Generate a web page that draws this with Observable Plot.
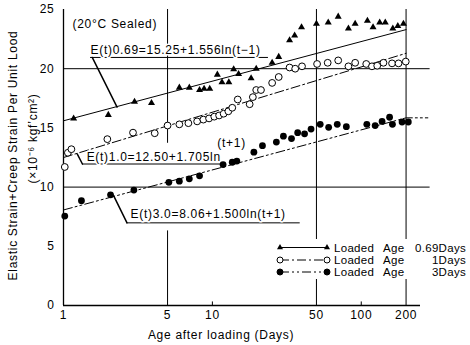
<!DOCTYPE html>
<html><head><meta charset="utf-8">
<script src="https://cdn.jsdelivr.net/npm/d3@7"></script>
<script src="https://cdn.jsdelivr.net/npm/@observablehq/plot@0.6"></script>
<style>
body{margin:0;background:#fff}
#wrap{position:relative;width:470px;height:345px;overflow:hidden}
#legend{position:absolute;left:0;top:0;pointer-events:none}
</style>
</head><body><div id="wrap"></div>
<script>
// ---- data ----
const triAge = [1.17, 2.0, 3.0, 3.9, 6.0, 7.0, 8.2, 8.8, 9.6, 10.8, 11.6, 12.9, 13.9, 15.0, 18.2, 19.7, 25.2, 27.9, 33, 35.7, 39.7, 50, 60, 70, 82, 91, 110, 120, 133, 145, 163, 176, 192];
const triVal = [15.8, 16.1, 17.2, 17.1, 18.4, 18.4, 18.2, 18.3, 18.3, 19.5, 18.85, 18.85, 19.95, 19.55, 19.2, 20.0, 20.5, 21.0, 22.4, 22.8, 23.5, 23.8, 23.9, 24.4, 23.4, 23.8, 24.05, 23.5, 23.9, 23.9, 23.4, 23.6, 23.8];
const oneAge = [1.02, 1.07, 1.13, 1.97, 2.93, 4.1, 5.0, 6.0, 6.9, 7.9, 8.7, 9.5, 10.3, 11.1, 11.9, 12.8, 13.6, 14.8, 17.8, 18.7, 19.7, 21.2, 25.2, 27.9, 33, 36, 40, 50.5, 59.5, 70, 82, 91, 108, 118, 128, 141, 161, 178, 199];
const oneVal = [11.7, 12.9, 13.2, 14.05, 14.6, 14.55, 15.2, 15.3, 15.4, 15.55, 15.7, 15.8, 15.95, 16.05, 16.2, 16.4, 16.7, 17.4, 17.0, 17.6, 18.2, 18.2, 18.8, 19.3, 20.1, 20.0, 20.2, 20.4, 20.5, 20.7, 20.2, 20.5, 20.4, 20.2, 20.25, 20.5, 20.45, 20.45, 20.6];
const threeAge = [1.02, 1.32, 2.07, 2.97, 5.1, 6.0, 7.0, 8.2, 11.8, 13.6, 14.6, 19.0, 21.7, 26.9, 30, 34, 37.4, 41.6, 46, 53, 60.4, 69, 79.4, 109, 124, 138, 155, 162, 188, 207];
const threeVal = [7.55, 8.85, 9.35, 9.75, 10.4, 10.5, 10.7, 10.95, 11.9, 12.1, 12.2, 12.95, 13.5, 13.8, 14.3, 14.1, 14.6, 14.5, 14.9, 15.3, 15.05, 15.3, 15.1, 15.3, 15.2, 15.55, 15.9, 15.3, 15.5, 15.5];
// fitted lines (end points)
const fitAge = [1, 200];
const fit069 = [15.6, 23.3];
const fit10 = [12.5, 21.3];
const fit30Age = [1, 200, 280];
const fit30 = [8.07, 15.85, 15.85];
// ticks and labels
const xTicks = [1, 5, 10, 50, 100, 200];
const yTicks = [0, 5, 10, 15, 20, 25];
const legendValues = ["0.69Days", "1Days", "3Days"];
const eq069 = "E(t)0.69=15.25+1.556ln(t\u22121)";
const eq10 = "E(t)1.0=12.50+1.705ln";
const eq10b = "(t+1)";
const eq30 = "E(t)3.0=8.06+1.500ln(t+1)";
const noteText = "(20\u00b0C Sealed)";
const yTitle1 = "Elastic Strain+Creep Strain Per Unit Lood";
const yTitle2 = "(\u00d710\u207b\u2076 kgf\u2019cm\u00b2)";
const xTitle = "Age after loading (Days)";

const rows = (ts, vs) => ts.map((t, i) => ({t, v: vs[i]}));
const tri = rows(triAge, triVal);
const one = rows(oneAge, oneVal);
const three = rows(threeAge, threeVal);
const f069 = rows(fitAge, fit069);
const f10 = rows(fitAge, fit10);
const f30 = rows(fit30Age, fit30);

const font = "'Liberation Sans', Arial, sans-serif";
const txt = {fontSize: 12, fill: "black", stroke: "white", strokeWidth: 3, paintOrder: "stroke", textAnchor: "start"};

const chart = Plot.plot({
  width: 470, height: 345,
  marginLeft: 63, marginRight: 50, marginTop: 9, marginBottom: 40,
  style: {fontFamily: font, fontSize: "12px", letterSpacing: "0.7px", background: "white", color: "black", overflow: "visible"},
  x: {type: "log", domain: [1, 250], ticks: xTicks, tickFormat: d => String(d), tickSize: 0, tickPadding: 5, label: null},
  y: {domain: [0, 25], ticks: yTicks, tickSize: 0, tickPadding: 9, label: null},
  marks: [
    // grid
    Plot.ruleY([10, 20], {x1: 1, x2: 290, stroke: "black", strokeWidth: 1}),
    Plot.ruleX([5], {y1: 13.7, y2: 25, stroke: "black", strokeWidth: 1}),
    Plot.ruleX([5], {y1: 0, y2: 6.3, stroke: "black", strokeWidth: 1}),
    Plot.ruleX([50, 200], {y1: 0, y2: 25, stroke: "black", strokeWidth: 1}),
    // axes
    Plot.ruleX([1], {y1: 0, y2: 25, stroke: "black", strokeWidth: 1.3}),
    Plot.ruleY([0], {x1: 1, x2: 250, stroke: "black", strokeWidth: 1.3}),
    Plot.ruleX([10, 100], {y1: 0, y2: 0.3, stroke: "black"}),
    // fitted lines
    Plot.line(f069, {x: "t", y: "v", stroke: "black", strokeWidth: 1}),
    Plot.line(f10, {x: "t", y: "v", stroke: "black", strokeWidth: 1, strokeDasharray: "9,3,2,3"}),
    Plot.line(f30, {x: "t", y: "v", stroke: "black", strokeWidth: 1, strokeDasharray: "9,3,2,3,2,3"}),
    // annotation leaders
    Plot.line([{t: 1.56, v: 20.95}, {t: 2.29, v: 16.75}], {x: "t", y: "v", stroke: "black"}),
    Plot.ruleY([20.95], {x1: 1.52, x2: 23.8, stroke: "black"}),
    Plot.line([{t: 1.236, v: 12.8}, {t: 1.34, v: 11.95}], {x: "t", y: "v", stroke: "black"}),
    Plot.ruleY([11.95], {x1: 1.34, x2: 11.7, stroke: "black"}),
    Plot.line([{t: 2.17, v: 9.28}, {t: 2.67, v: 6.98}], {x: "t", y: "v", stroke: "black"}),
    Plot.ruleY([6.98], {x1: 2.67, x2: 38.9, stroke: "black"}),
    // annotation texts
    Plot.text([noteText], {x: 1.15, y: 23.75, ...txt}),
    Plot.text([eq069], {x: 1.52, y: 21.55, ...txt}),
    Plot.text([eq10], {x: 1.43, y: 12.55, ...txt}),
    Plot.text([eq10b], {x: 10.8, y: 13.75, ...txt}),
    Plot.text([eq30], {x: 2.82, y: 7.7, ...txt}),
    // data points
    Plot.dot(tri, {x: "t", y: "v", symbol: "triangle", r: 2.6, fill: "black", stroke: "none"}),
    Plot.dot(one, {x: "t", y: "v", r: 3.4, fill: "white", stroke: "black", strokeWidth: 1}),
    Plot.dot(three, {x: "t", y: "v", r: 3.4, fill: "black", stroke: "none"}),
    // axis titles
    Plot.text([xTitle], {frameAnchor: "bottom", dx: -21, dy: 30, textAnchor: "middle", lineAnchor: "middle", fontSize: 12, fill: "black"}),
    Plot.text([yTitle1], {frameAnchor: "left", dx: -50, dy: -2, rotate: -90, textAnchor: "middle", lineAnchor: "middle", fontSize: 12, fill: "black"}),
    Plot.text([yTitle2], {frameAnchor: "left", dx: -30, dy: -19, rotate: -90, textAnchor: "middle", lineAnchor: "middle", fontSize: 12, fill: "black"})
  ]
});
const wrap = document.getElementById("wrap");
wrap.appendChild(chart);

// legend overlay
const lg = d3.select(wrap).append("svg").attr("id", "legend").attr("width", 470).attr("height", 345)
  .style("font-family", font).style("font-size", "11.5px").style("letter-spacing", "0.3px");
lg.append("rect").attr("x", 274).attr("y", 239).attr("width", 196).attr("height", 40).attr("fill", "white");
const rowY = [247.5, 260, 272];
const dashes = [null, "9,3,2,3", "9,3,2,3,2,3"];
legendValues.forEach((val, i) => {
  const y = rowY[i];
  lg.append("line").attr("x1", 280).attr("x2", 327).attr("y1", y).attr("y2", y)
    .attr("stroke", "black").attr("stroke-dasharray", dashes[i]);
  [280, 327].forEach(x => {
    if (i === 0) {
      lg.append("path").attr("d", d3.symbol(d3.symbolTriangle, 16)()).attr("transform", `translate(${x},${y})`).attr("fill", "black");
    } else {
      lg.append("circle").attr("cx", x).attr("cy", y).attr("r", 3).attr("fill", i === 1 ? "white" : "black").attr("stroke", "black");
    }
  });
  lg.append("text").attr("x", 334).attr("y", y).attr("dy", "0.35em").text("Loaded");
  lg.append("text").attr("x", 383).attr("y", y).attr("dy", "0.35em").text("Age");
  lg.append("text").attr("x", 466).attr("y", y).attr("dy", "0.35em").attr("text-anchor", "end").text(val);
});
</script>
</body></html>
